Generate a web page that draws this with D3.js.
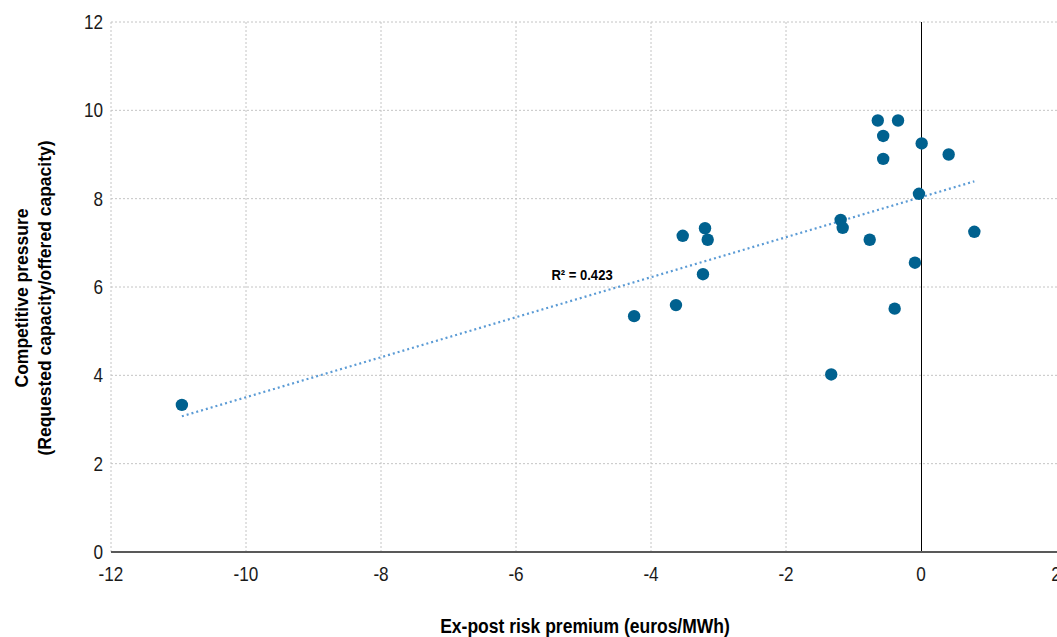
<!DOCTYPE html>
<html><head><meta charset="utf-8">
<script src="https://cdn.jsdelivr.net/npm/d3@7"></script>
<style>
html,body{margin:0;padding:0;background:#fff;}
text{font-family:"Liberation Sans",Arial,sans-serif;}
</style></head>
<body><svg id="c" width="1057" height="637"></svg>
<script>
const riskPremium = [-10.95,-4.25,-3.63,-3.53,-3.2,-3.16,-3.23,-1.33,-1.19,-1.16,-0.76,-0.64,-0.34,-0.56,-0.56,0.01,0.41,-0.03,-0.09,-0.39,0.79];
const pressure    = [3.33,5.34,5.59,7.16,7.33,7.07,6.29,4.02,7.52,7.34,7.07,9.77,9.77,9.42,8.90,9.25,9.00,8.11,6.55,5.51,7.25];
const xTicks = [-12,-10,-8,-6,-4,-2,0,2];
const yTicks = [0,2,4,6,8,10,12];
const r2Label = "R² = 0.423";
const xTitle = "Ex-post risk premium (euros/MWh)";
const yTitle = ["Competitive pressure","(Requested capacity/offered capacity)"];

const svg = d3.select("#c");
const x = d3.scaleLinear().domain([-12,2]).range([111,1056]);
const y = d3.scaleLinear().domain([0,12]).range([552,22]);

// grid
svg.append("g").selectAll("line").data(yTicks.filter(d=>d>0)).join("line")
  .attr("x1",x(-12)).attr("x2",1057).attr("y1",d=>y(d)).attr("y2",d=>y(d))
  .attr("stroke","#c4c4c4").attr("stroke-width",1).attr("stroke-dasharray","2,2");
svg.append("g").selectAll("line").data(xTicks.filter(d=>d!==0 && d<2)).join("line")
  .attr("x1",d=>x(d)).attr("x2",d=>x(d)).attr("y1",y(12)).attr("y2",y(0))
  .attr("stroke","#c4c4c4").attr("stroke-width",1).attr("stroke-dasharray","2,2");

// zero vertical line
svg.append("line").attr("x1",x(0)+0.5).attr("x2",x(0)+0.5).attr("y1",y(12)).attr("y2",y(0))
  .attr("stroke","#000").attr("stroke-width",1);

// x axis line
svg.append("line").attr("x1",x(-12)).attr("x2",1057).attr("y1",y(0)).attr("y2",y(0))
  .attr("stroke","#595959").attr("stroke-width",2);

// tick labels
svg.append("g").selectAll("text").data(yTicks).join("text")
  .attr("transform",d=>`translate(103,${y(d)+7}) scale(0.88,1)`).attr("text-anchor","end")
  .attr("font-size",19.5).attr("fill","#1a1a1a").text(d=>d);
svg.append("g").selectAll("text").data(xTicks).join("text")
  .attr("transform",d=>`translate(${x(d)},581) scale(0.88,1)`).attr("text-anchor","middle")
  .attr("font-size",19.5).attr("fill","#1a1a1a").text(d=>d);

// titles
svg.append("text").attr("transform","translate(585,633) scale(0.875,1)").attr("text-anchor","middle")
  .attr("font-size",20).attr("font-weight","bold").attr("fill","#000").text(xTitle);
const yt = svg.append("text").attr("transform","translate(0,298) rotate(-90)")
  .attr("text-anchor","middle").attr("font-size",17.5).attr("font-weight","bold").attr("fill","#000");
yt.selectAll("tspan").data(yTitle).join("tspan").attr("x",0).attr("y",(d,i)=>28+i*23).text(d=>d);

// trend line (least squares)
const n = riskPremium.length;
const mx = d3.mean(riskPremium), my = d3.mean(pressure);
let sxy=0,sxx=0;
for(let i=0;i<n;i++){sxy+=(riskPremium[i]-mx)*(pressure[i]-my);sxx+=(riskPremium[i]-mx)**2;}
const b = sxy/sxx, a = my-b*mx;
const [x0,x1] = d3.extent(riskPremium);
svg.append("line").attr("x1",x(x0)).attr("y1",y(a+b*x0)).attr("x2",x(x1)).attr("y2",y(a+b*x1))
  .attr("stroke","#5b9bd5").attr("stroke-width",2.2).attr("stroke-dasharray","2,3");

// points
svg.append("g").selectAll("circle").data(riskPremium).join("circle")
  .attr("cx",d=>x(d)).attr("cy",(d,i)=>y(pressure[i])).attr("r",6.2).attr("fill","#00618f");

// R2 label
svg.append("text").attr("transform","translate(582,280) scale(0.87,1)").attr("text-anchor","middle")
  .attr("font-size",15).attr("font-weight","bold").attr("fill","#000").text(r2Label);
</script></body></html>
